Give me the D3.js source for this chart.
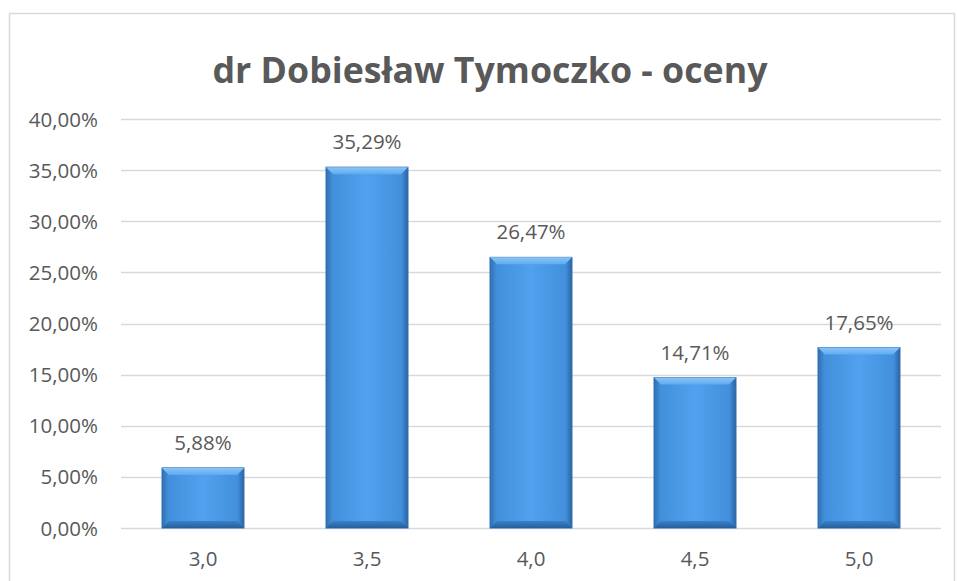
<!DOCTYPE html>
<html>
<head>
<meta charset="utf-8">
<script src="https://cdn.jsdelivr.net/npm/d3@7"></script>
<style>
  body { margin: 0; background: #fff; }
  text { font-family: "Open Sans", "Noto Sans", sans-serif; fill: #595959; }
</style>
</head>
<body>
<svg width="957" height="581"></svg>
<script>
// chart data
var categories = ["3,0", "3,5", "4,0", "4,5", "5,0"];
var values = [5.88, 35.29, 26.47, 14.71, 17.65];
var yTicks = [0, 5, 10, 15, 20, 25, 30, 35, 40];
var title = "dr Dobiesław Tymoczko - oceny";

var svg = d3.select("svg"),
    width = +svg.attr("width"),
    height = +svg.attr("height");

var margin = {left: 121, right: 16, top: 119, bottom: 53};

// outer chart border
svg.append("rect")
    .attr("x", 9.5).attr("y", 13.5)
    .attr("width", 945).attr("height", 600)
    .attr("fill", "none")
    .attr("stroke", "#d9d9d9")
    .attr("stroke-width", 1.5);

svg.append("text")
    .attr("x", 490).attr("y", 83)
    .attr("text-anchor", "middle")
    .attr("font-size", 35)
    .attr("font-weight", "bold")
    .attr("textLength", 555)
    .attr("lengthAdjust", "spacingAndGlyphs")
    .text(title);

var x = d3.scaleBand()
    .domain(categories)
    .range([margin.left, width - margin.right])
    .paddingInner(0.5).paddingOuter(0.25);

var y = d3.scaleLinear()
    .domain([0, 40])
    .range([height - margin.bottom, margin.top]);

function fmt(v) { return v.toFixed(2).replace(".", ",") + "%"; }

// gridlines
svg.append("g").selectAll("line")
    .data(yTicks)
    .enter().append("line")
    .attr("x1", margin.left).attr("x2", width - margin.right)
    .attr("y1", function(d) { return Math.round(y(d)) + 0.5; })
    .attr("y2", function(d) { return Math.round(y(d)) + 0.5; })
    .attr("stroke", "#d9d9d9")
    .attr("stroke-width", 1.3);

// y axis labels
svg.append("g").selectAll("text")
    .data(yTicks)
    .enter().append("text")
    .attr("x", 98)
    .attr("y", function(d) { return y(d) + 7.5; })
    .attr("text-anchor", "end")
    .attr("font-size", 20.5)
    .text(function(d) { return fmt(d); });

// x axis labels
svg.append("g").selectAll("text")
    .data(categories)
    .enter().append("text")
    .attr("x", function(d) { return x(d) + x.bandwidth() / 2; })
    .attr("y", 566)
    .attr("text-anchor", "middle")
    .attr("font-size", 20.5)
    .text(function(d) { return d; });

// gradients for the bevelled bars
var defs = svg.append("defs");
var g1 = defs.append("linearGradient").attr("id", "barFill")
    .attr("x1", 0).attr("x2", 1).attr("y1", 0).attr("y2", 0);
g1.append("stop").attr("offset", "0%").attr("stop-color", "#2f6fb0");
g1.append("stop").attr("offset", "8%").attr("stop-color", "#4290dc");
g1.append("stop").attr("offset", "50%").attr("stop-color", "#51a1ee");
g1.append("stop").attr("offset", "92%").attr("stop-color", "#4290dc");
g1.append("stop").attr("offset", "100%").attr("stop-color", "#2a64a3");

var g2 = defs.append("linearGradient").attr("id", "barTop")
    .attr("x1", 0).attr("x2", 0).attr("y1", 0).attr("y2", 1);
g2.append("stop").attr("offset", "0%").attr("stop-color", "#8cc4f5");
g2.append("stop").attr("offset", "100%").attr("stop-color", "#5eabf2");

var g3 = defs.append("linearGradient").attr("id", "barBottom")
    .attr("x1", 0).attr("x2", 0).attr("y1", 0).attr("y2", 1);
g3.append("stop").attr("offset", "0%").attr("stop-color", "#3a80c8");
g3.append("stop").attr("offset", "100%").attr("stop-color", "#255f9c");

var bars = svg.append("g").selectAll("g")
    .data(values)
    .enter().append("g");

bars.append("rect")
    .attr("x", function(d, i) { return x(categories[i]); })
    .attr("y", function(d) { return y(d); })
    .attr("width", x.bandwidth())
    .attr("height", function(d) { return y(0) - y(d); })
    .attr("fill", "url(#barFill)")
    .attr("stroke", "#3573b3")
    .attr("stroke-width", 1);

var bev = 7;
// top bevel
bars.append("path")
    .attr("d", function(d, i) {
        var x0 = x(categories[i]), x1 = x0 + x.bandwidth(), y0 = y(d);
        return "M" + x0 + "," + y0 + "L" + x1 + "," + y0 + "L" + (x1 - bev) + "," + (y0 + bev) +
            "L" + (x0 + bev) + "," + (y0 + bev) + "Z";
    })
    .attr("fill", "url(#barTop)");
// bottom bevel
bars.append("path")
    .attr("d", function(d, i) {
        var x0 = x(categories[i]), x1 = x0 + x.bandwidth(), y0 = y(0);
        return "M" + x0 + "," + y0 + "L" + x1 + "," + y0 + "L" + (x1 - bev) + "," + (y0 - bev) +
            "L" + (x0 + bev) + "," + (y0 - bev) + "Z";
    })
    .attr("fill", "url(#barBottom)");

// value labels
bars.append("text")
    .attr("x", function(d, i) { return x(categories[i]) + x.bandwidth() / 2; })
    .attr("y", function(d) { return y(d) - 18; })
    .attr("text-anchor", "middle")
    .attr("font-size", 20.5)
    .text(function(d) { return fmt(d); });
</script>
</body>
</html>
